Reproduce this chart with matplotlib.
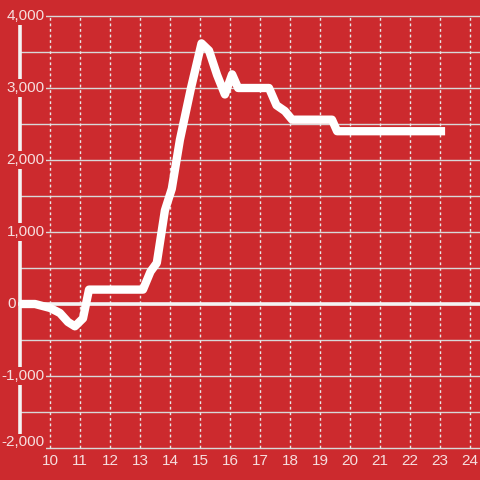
import matplotlib
matplotlib.use("Agg")
import matplotlib.pyplot as plt

hours = [9.0, 9.5, 10.0, 10.33, 10.6, 10.83, 11.1, 11.3, 13.1, 13.35, 13.56, 13.83,
         14.06, 14.33, 14.7, 15.05, 15.3, 15.57, 15.83, 16.07, 16.27, 17.3, 17.55,
         17.83, 18.07, 19.4, 19.57, 23.17]
values = [0, 0, -55, -125, -250, -310, -200, 200, 200, 450, 570, 1300,
          1600, 2280, 3000, 3620, 3520, 3180, 2910, 3190, 3000, 3000, 2760,
          2680, 2560, 2560, 2400, 2400]

x_ticks = list(range(10, 25))
y_ticks = [-2000, -1000, 0, 1000, 2000, 3000, 4000]
y_grid = list(range(-2000, 4001, 500))

BG = '#cc2a2e'
TXT = '#f6dede'
plt.rcParams['font.family'] = ['Liberation Sans', 'DejaVu Sans']

fig = plt.figure(figsize=(4.8, 4.8), dpi=100, facecolor=BG)
ax = fig.add_axes([0, 0, 1, 1])
ax.set_facecolor(BG)
for s in ax.spines.values():
    s.set_visible(False)
ax.set_xticks([]); ax.set_yticks([])

# pixel mapping: x_px = 50 + 30*(h-10); y_px(top) = 304 - 0.072*v
ax.set_xlim(10 - 50 / 30, 10 + 430 / 30)
ax.set_ylim((304 - 480) / 0.072, 304 / 0.072)

def hx(px):
    return 10 + (px - 50) / 30

spine_x = hx(20.5)
x_right = hx(480)

for g in y_grid:
    ax.plot([spine_x, x_right], [g, g], color='#d8d8d8', lw=1.0, zorder=1,
            solid_capstyle='butt')
for t in x_ticks:
    ax.plot([t, t], [-2000, 4000], color='#e8e8e8', lw=1.0, zorder=1,
            dashes=(2, 2))

# zero line
ax.plot([hx(17), x_right], [0, 0], color='#f4f4f4', lw=2.6, zorder=2,
        solid_capstyle='butt')
# left axis line
ax.plot([spine_x, spine_x], [-2000, 4000], color='#f4f4f4', lw=2.6, zorder=2,
        solid_capstyle='butt')

# y tick labels
for v in y_ticks:
    yy = v + 80 if v == -2000 else v
    xpx = 1.5 if v < 0 else (6.5 if v > 0 else 7.5)
    ax.text(hx(xpx), yy, f"{v:,}", ha='left', va='center', color=TXT,
            fontsize=11, zorder=3,
            bbox=dict(boxstyle='square,pad=0.1', fc=BG, ec='none'))

# data line
ax.plot(hours, values, color='white', lw=6, zorder=4,
        solid_capstyle='butt', solid_joinstyle='round')

# x tick labels
for t in x_ticks:
    ax.text(t, (304 - 461) / 0.072, str(t), ha='center', va='center',
            color=TXT, fontsize=11, zorder=4)

fig.savefig('out.png', dpi=100, facecolor=BG)
